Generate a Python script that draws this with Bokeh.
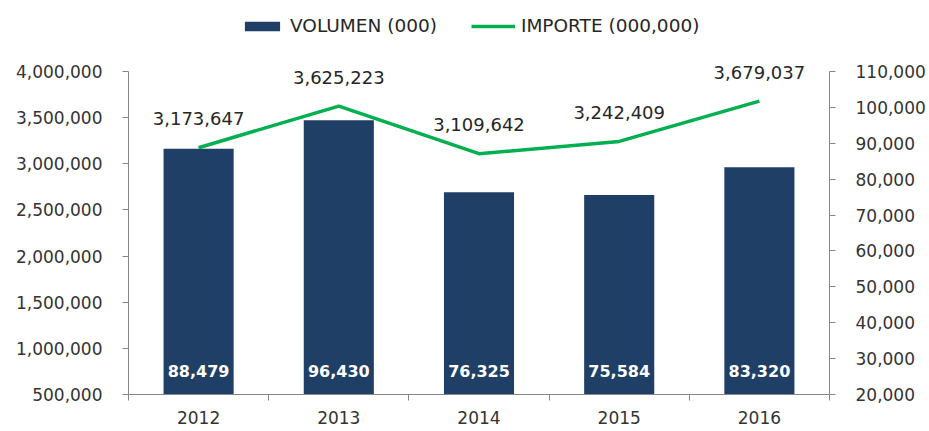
from bokeh.plotting import figure
from bokeh.models import (Range1d, LinearAxis, FixedTicker, NumeralTickFormatter,
                          ColumnDataSource, Legend, LegendItem)
from bokeh.core.properties import value
from bokeh.embed import file_html
from bokeh.resources import INLINE

# ---- data ----
years = ["2012", "2013", "2014", "2015", "2016"]
volumen = [88479, 96430, 76325, 75584, 83320]          # VOLUMEN (000) -> right axis
importe = [3173647, 3625223, 3109642, 3242409, 3679037]  # IMPORTE (000,000) -> left axis
left_ticks = [500000, 1000000, 1500000, 2000000, 2500000, 3000000, 3500000, 4000000]
right_ticks = [20000, 30000, 40000, 50000, 60000, 70000, 80000, 90000, 100000, 110000]

FONT = "DejaVu Sans"
BAR = "#203F66"
GREEN = "#00B050"
AXIS = "#868686"
TICK_TXT = "#333333"
LBL_TXT = "#262626"

# layout (pixels): frame spans the full height above the x axis so that the
# labels/legend above the axes are not clipped; axes are bounded to their ticks
W, H = 929, 431
AX_TOP, AX_BOTTOM = 71, 394   # pixel rows of the highest / lowest tick
pad = AX_TOP / (AX_BOTTOM - AX_TOP)

def extended(lo, hi):
    return Range1d(lo, hi + (hi - lo) * pad)

xpos = [i + 0.5 for i in range(len(years))]
bounds = list(range(len(years) + 1))

src = ColumnDataSource(dict(
    x=xpos, year=years, vol=volumen, imp=importe,
    vol_lbl=[f"{v:,}" for v in volumen],
    imp_lbl=[f"{v:,}" for v in importe],
))

p = figure(width=W, height=H, output_backend="svg", toolbar_location=None,
           title=None,
           x_range=Range1d(0, len(years)),
           y_range=extended(left_ticks[0], left_ticks[-1]),
           min_border_left=128, min_border_right=100,
           min_border_top=0, min_border_bottom=H - AX_BOTTOM)
p.outline_line_color = None
p.xgrid.visible = False
p.ygrid.visible = False
p.background_fill_color = "white"
p.border_fill_color = "white"

p.extra_y_ranges = {"vol": extended(right_ticks[0], right_ticks[-1])}

# bars (right axis)
r_bar = p.vbar(x="x", width=0.5, bottom=right_ticks[0], top="vol", source=src,
               y_range_name="vol", fill_color=BAR, line_color=None)
# line (left axis)
r_line = p.line(x="x", y="imp", source=src, line_color=GREEN, line_width=3.5)

# data labels
p.text(x="x", y="imp", text="imp_lbl", source=src, text_align="center",
       text_baseline="middle", y_offset=-29, text_font=value(FONT),
       text_font_size="18px", text_color=LBL_TXT)
p.text(x="x", y=right_ticks[0], text="vol_lbl", source=src, y_range_name="vol",
       text_align="center", text_baseline="middle", y_offset=-24,
       text_font=value(FONT), text_font_size="16px", text_font_style="bold",
       text_color="white")

# left axis
ya = p.yaxis[0]
ya.ticker = FixedTicker(ticks=left_ticks)
ya.bounds = (left_ticks[0], left_ticks[-1])
ya.formatter = NumeralTickFormatter(format="0,0")
ya.axis_line_color = AXIS
ya.major_tick_line_color = AXIS
ya.major_tick_out = 6
ya.major_tick_in = 0
ya.minor_tick_line_color = None
ya.major_label_standoff = 20
ya.major_label_text_font = FONT
ya.major_label_text_font_size = "17px"
ya.major_label_text_color = TICK_TXT

# right axis
ra = LinearAxis(y_range_name="vol", ticker=FixedTicker(ticks=right_ticks),
                formatter=NumeralTickFormatter(format="0,0"),
                bounds=(right_ticks[0], right_ticks[-1]))
ra.axis_line_color = AXIS
ra.major_tick_line_color = AXIS
ra.major_tick_out = 6
ra.major_tick_in = 0
ra.minor_tick_line_color = None
ra.major_label_standoff = 20
ra.major_label_text_font = FONT
ra.major_label_text_font_size = "17px"
ra.major_label_text_color = TICK_TXT
p.add_layout(ra, "right")

# x axis: labels at category centres, ticks at boundaries
xa = p.xaxis[0]
xa.ticker = FixedTicker(ticks=xpos, minor_ticks=bounds)
xa.major_label_overrides = {x: y for x, y in zip(xpos, years)}
xa.axis_line_color = AXIS
xa.major_tick_line_color = None
xa.major_tick_out = 6
xa.major_tick_in = 0
xa.minor_tick_line_color = AXIS
xa.minor_tick_out = 6
xa.minor_tick_in = 0
xa.major_label_standoff = 10
xa.major_label_text_font = FONT
xa.major_label_text_font_size = "17px"
xa.major_label_text_color = TICK_TXT

legend = Legend(items=[LegendItem(label="VOLUMEN (000)", renderers=[r_bar]),
                       LegendItem(label="IMPORTE (000,000)", renderers=[r_line])],
                orientation="horizontal", location=(112, AX_BOTTOM - 36),
                glyph_width=44, glyph_height=12, label_standoff=6, spacing=34,
                padding=0, margin=0, border_line_color=None,
                background_fill_alpha=0, label_text_font=FONT,
                label_text_font_size="18.5px", label_text_color="#262626",
                label_height=20)
p.add_layout(legend, "center")

open("out.html", "w").write(file_html(p, INLINE))
